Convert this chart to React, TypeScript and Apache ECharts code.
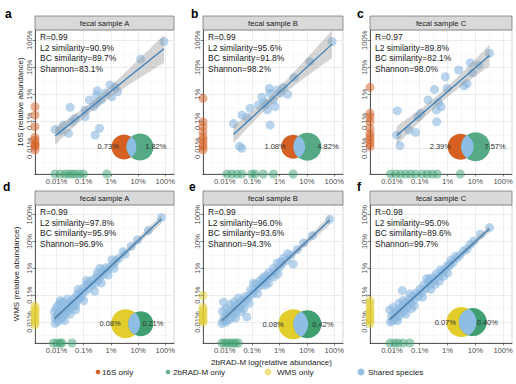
import React, { useEffect, useRef } from "react";
import * as echarts from "echarts";

// ---------- axis ticks (log10 of relative abundance) ----------
const MAJOR_TICKS = [-4, -3, -2, -1, 0];
const MAJOR_LABELS = ["0.01%", "0.1%", "1%", "10%", "100%"];
const MINOR_TICKS = [-4.5, -3.5, -2.5, -1.5, -0.5];

// ---------- panel texts ----------
const PANEL_LETTERS = ["a", "b", "c", "d", "e", "f"];
const SAMPLE_NAMES = ["fecal sample A", "fecal sample B", "fecal sample C", "fecal sample A", "fecal sample B", "fecal sample C"];
const R_VALUES = ["0.99", "0.99", "0.97", "0.99", "0.99", "0.98"];
const L2_SIM = ["90.9%", "95.6%", "89.8%", "97.8%", "96.0%", "95.0%"];
const BC_SIM = ["89.7%", "91.8%", "82.1%", "95.9%", "93.6%", "89.6%"];
const SHANNON = ["83.1%", "98.2%", "98.0%", "96.9%", "94.3%", "99.7%"];
const VENN_LEFT_PCT = ["0.73%", "1.08%", "2.39%", "0.08%", "0.08%", "0.07%"];
const VENN_RIGHT_PCT = ["1.82%", "4.82%", "7.57%", "0.21%", "0.42%", "0.40%"];

// ---------- shared species: [log10 2bRAD-M, log10 other] ----------
const SHARED_A = [
  [-0.05, -0.05], [-0.91, -0.7], [-2.03, -1.66], [-1.85, -1.74], [-1.97, -2.09], [-2.5, -1.87],
  [-2.52, -2.03], [-2.79, -2.21], [-2.52, -2.33], [-2.64, -2.46], [-3.5, -2.48], [-2.95, -2.83],
  [-3.31, -2.89], [-3.43, -3.02], [-3.74, -3.14], [-4.05, -3.3], [-3.86, -3.35], [-3.56, -3.45],
  [-2.42, -3.26], [-2.58, -3.51], [-2.95, -2.58], [-2.2, -1.95], [-1.75, -1.9], [-2.35, -2.2],
];
const SHARED_B = [
  [-0.08, -0.05], [-0.89, -0.79], [-1.47, -1.37], [-1.86, -1.74], [-2.37, -1.78], [-2.08, -1.84],
  [-2.34, -1.96], [-2.64, -2.11], [-2.77, -2.4], [-2.46, -2.36], [-2.22, -2.21], [-2.16, -2.46],
  [-2.44, -2.58], [-3.07, -2.52], [-3.37, -2.77], [-3.68, -3.08], [-2.34, -3.14], [-3.46, -3.92],
  [-3.37, -4.0], [-1.95, -1.95], [-2.55, -2.3], [-1.7, -2.0], [-3.2, -2.85],
];
const SHARED_C = [
  [-0.49, -0.48], [-1.18, -0.83], [-0.88, -0.92], [-1.6, -1.1], [-2.08, -1.35], [-1.3, -1.6],
  [-1.4, -1.69], [-2.02, -1.78], [-2.47, -1.82], [-2.7, -2.21], [-2.32, -2.31], [-2.23, -2.46],
  [-2.4, -2.58], [-3.07, -2.83], [-3.81, -2.61], [-2.39, -3.02], [-3.39, -3.32], [-3.15, -3.41],
  [-3.83, -3.51], [-3.71, -3.9], [-2.97, -2.71], [-1.1, -1.2],
];
const SHARED_D = [
  [-0.14, -0.11], [-0.62, -0.58], [-1.02, -0.93], [-1.25, -1.18], [-1.48, -1.47], [-1.55, -1.38],
  [-1.7, -1.62], [-1.82, -1.72], [-1.9, -1.85], [-1.96, -1.68], [-2.05, -1.95], [-2.12, -2.08],
  [-2.2, -1.98], [-2.28, -2.22], [-2.32, -2.1], [-2.4, -2.33], [-2.45, -2.45], [-2.52, -2.3],
  [-2.58, -2.55], [-2.65, -2.42], [-2.7, -2.62], [-2.76, -2.48], [-2.82, -2.75], [-2.88, -2.6],
  [-2.95, -2.85], [-3.0, -2.72], [-3.05, -2.95], [-3.1, -3.08], [-3.15, -2.9], [-3.2, -3.15],
  [-3.25, -3.0], [-3.3, -3.28], [-3.35, -3.12], [-3.4, -3.4], [-3.45, -3.22], [-3.5, -3.5],
  [-3.55, -3.32], [-3.6, -3.6], [-3.62, -3.45], [-3.68, -3.7], [-3.72, -3.52], [-3.78, -3.8],
  [-3.8, -3.6], [-3.85, -3.9], [-3.88, -3.3], [-3.9, -3.68], [-3.95, -3.98], [-3.98, -3.75],
  [-4.02, -3.5], [-4.05, -4.05], [-4.05, -3.85], [-4.08, -3.62], [-3.7, -3.95], [-3.5, -3.7],
  [-3.3, -3.55], [-3.0, -3.2], [-2.6, -2.85], [-3.86, -3.2], [-3.2, -2.78], [-2.9, -2.45], [-2.4, -2.0],
  [-3.95, -3.4], [-3.75, -3.25], [-3.6, -3.15], [-3.3, -3.4], [-2.1, -2.25], [-1.88, -2.0],
  [-2.5, -2.15], [-2.35, -2.55],
];
const SHARED_E = [
  [-0.16, -0.17], [-0.8, -0.78], [-1.12, -1.05], [-1.35, -1.3], [-1.5, -1.84], [-1.58, -1.5],
  [-1.75, -1.71], [-1.85, -1.62], [-1.92, -1.85], [-2.0, -1.95], [-2.08, -1.8], [-2.15, -2.1],
  [-2.22, -2.0], [-2.3, -2.25], [-2.38, -2.15], [-2.45, -2.4], [-2.5, -2.28], [-2.58, -2.5],
  [-2.65, -2.62], [-2.7, -2.45], [-2.78, -2.7], [-2.85, -2.58], [-2.92, -2.82], [-2.98, -2.95],
  [-3.05, -2.8], [-3.1, -3.02], [-3.18, -3.15], [-3.19, -3.81], [-3.25, -3.05], [-3.3, -3.3],
  [-3.36, -3.18], [-3.42, -3.45], [-3.48, -3.3], [-3.55, -3.58], [-3.6, -3.4], [-3.65, -3.7],
  [-3.7, -3.5], [-3.75, -3.82], [-3.8, -3.62], [-3.85, -3.92], [-3.9, -3.7], [-3.95, -4.0],
  [-4.0, -3.8], [-4.04, -3.26], [-4.05, -3.95], [-4.08, -3.6], [-4.1, -4.05], [-3.6, -3.85],
  [-3.4, -3.62], [-3.1, -3.3], [-2.8, -2.95], [-2.5, -2.62], [-2.2, -2.32], [-3.5, -3.1],
  [-2.95, -2.55], [-1.7, -1.45], [-3.95, -3.5], [-3.8, -3.35], [-3.65, -3.25], [-3.3, -3.5],
  [-2.05, -2.2], [-1.95, -1.75], [-2.6, -2.35], [-2.4, -2.55],
];
const SHARED_F = [
  [-0.49, -0.48], [-0.82, -0.73], [-1.05, -0.98], [-1.18, -1.1], [-1.3, -1.28], [-1.42, -1.35],
  [-1.55, -1.5], [-1.65, -1.62], [-1.72, -1.55], [-1.8, -1.78], [-1.88, -1.7], [-1.95, -1.92],
  [-2.02, -1.9], [-2.1, -2.05], [-2.18, -2.15], [-2.25, -2.05], [-2.32, -2.3], [-2.4, -2.2],
  [-2.48, -2.45], [-2.55, -2.35], [-2.62, -2.6], [-2.7, -2.5], [-2.78, -2.75], [-2.85, -2.62],
  [-2.92, -2.9], [-3.0, -2.78], [-3.05, -3.05], [-3.12, -2.92], [-3.2, -3.18], [-3.25, -3.05],
  [-3.32, -3.3], [-3.38, -3.15], [-3.45, -3.45], [-3.5, -3.28], [-3.55, -3.58], [-3.6, -3.4],
  [-3.63, -2.82], [-3.68, -3.68], [-3.72, -3.5], [-3.78, -3.8], [-3.82, -3.6], [-3.88, -3.88],
  [-3.92, -3.7], [-3.98, -3.95], [-4.02, -3.78], [-4.06, -4.0], [-4.08, -3.55], [-3.8, -3.95],
  [-3.5, -3.7], [-3.2, -3.4], [-2.9, -3.08], [-2.6, -2.78], [-2.3, -2.48], [-2.0, -2.18],
  [-3.35, -2.95], [-2.75, -2.38], [-3.95, -3.45], [-3.75, -3.3], [-3.6, -3.2], [-3.3, -3.5],
  [-2.15, -2.3], [-1.9, -1.85], [-2.65, -2.4], [-2.45, -2.6],
];

// ---------- species found only by 16S / WMS (log10 of their abundance, y) ----------
const ONLY_OTHER_A = [-2.46, -2.77, -3.2, -3.59, -3.7, -3.82, -3.88, -3.94, -4.06];
const ONLY_OTHER_B = [-2.15, -3.02, -3.2, -3.39, -3.57, -3.69, -3.82, -3.94, -4.06];
const ONLY_OTHER_C = [-1.74, -2.71, -2.85, -3.02, -3.26, -3.45, -3.57, -3.69, -3.82, -3.94];
const ONLY_OTHER_D = [-3.4, -3.5, -3.6, -3.7, -3.8, -3.9, -4.0, -4.1];
const ONLY_OTHER_E = [-3.01, -3.44, -3.55, -3.65, -3.75, -3.85, -3.95, -4.0];
const ONLY_OTHER_F = [-3.2, -3.3, -3.45, -3.55, -3.65, -3.75, -3.85, -3.95, -4.05];

// ---------- species found only by 2bRAD-M (log10 abundance, x) ----------
const ONLY_2B_A = [-4.05, -3.86, -3.68, -3.56, -3.43, -3.31, -3.16, -3.01, -2.15];
const ONLY_2B_B = [-3.92, -3.74, -3.55, -3.37, -3.01, -2.89, -2.59, -2.22, -1.5];
const ONLY_2B_C = [-4.05, -3.87, -3.69, -3.51, -3.33, -3.15, -2.91, -2.73, -2.55, -2.37, -1.54];
const ONLY_2B_D = [-4.11, -3.98, -3.86, -3.8, -3.43];
const ONLY_2B_E = [-4.1, -4.0, -3.9, -3.8, -3.7, -3.6, -3.5];
const ONLY_2B_F = [-4.07, -3.9, -3.78, -3.6, -3.36];

const SHARED = [SHARED_A, SHARED_B, SHARED_C, SHARED_D, SHARED_E, SHARED_F];
const ONLY_OTHER = [ONLY_OTHER_A, ONLY_OTHER_B, ONLY_OTHER_C, ONLY_OTHER_D, ONLY_OTHER_E, ONLY_OTHER_F];
const ONLY_2B = [ONLY_2B_A, ONLY_2B_B, ONLY_2B_C, ONLY_2B_D, ONLY_2B_E, ONLY_2B_F];

// ---------- layout / style ----------
const X_RANGE = [-4.79, 0.32];
const Y_RANGES = [[-4.95, 0.38], [-4.78, 0.36]];
const COLS = [{ left: 35, width: 139 }, { left: 203, width: 140 }, { left: 370, width: 142 }];
const ROWS = [{ top: 30, height: 144 }, { top: 205, height: 138 }];
// venn: circle x / y in log units; radii px; label x in log units
const VENN_POS = [
  { lx: -1.52, rx: -0.93, y: -3.95, rl: 12.5, rr: 13.5, tl: -2.1, tr: -0.35 },
  { lx: -1.5, rx: -0.98, y: -3.94, rl: 12, rr: 14, tl: -2.16, tr: -0.23 },
  { lx: -1.53, rx: -0.99, y: -3.94, rl: 13, rr: 14.5, tl: -2.26, tr: -0.29 },
  { lx: -1.46, rx: -0.9, y: -4.06, rl: 14.5, rr: 12.5, tl: -2.03, tr: -0.46 },
  { lx: -1.5, rx: -0.98, y: -4.08, rl: 15, rr: 14, tl: -2.23, tr: -0.41 },
  { lx: -1.5, rx: -1.09, y: -4.0, rl: 15, rr: 14, tl: -2.08, tr: -0.57 },
];
const FONT = "'Liberation Sans', Arial, Helvetica, sans-serif";
const C_ORANGE = "#d65f22";
const C_GREEN = "#3d9f72";
const C_YELLOW = "#e3cd2d";
const C_BLUE = "#8ab8e0";
const C_VENN_MID = "#8ebde6";

function fitBand(pts: number[][]) {
  const n = pts.length;
  let sx = 0, sy = 0;
  pts.forEach((p) => { sx += p[0]; sy += p[1]; });
  const mx = sx / n, my = sy / n;
  let sxx = 0, sxy = 0;
  pts.forEach((p) => { sxx += (p[0] - mx) ** 2; sxy += (p[0] - mx) * (p[1] - my); });
  const b = sxy / sxx, a = my - b * mx;
  let sse = 0;
  pts.forEach((p) => { const r = p[1] - (a + b * p[0]); sse += r * r; });
  const df = n - 2;
  const s = Math.sqrt(sse / df);
  const t = 1.96 + 2.4 / df;
  const xs = pts.map((p) => p[0]);
  const x0 = Math.min(...xs), x1 = Math.max(...xs);
  const band: number[][] = [];
  const steps = 40;
  for (let i = 0; i <= steps; i++) {
    const x = x0 + ((x1 - x0) * i) / steps;
    const f = a + b * x;
    const se = s * Math.sqrt(1 / n + (x - mx) ** 2 / sxx);
    band.push([x, f - t * se, f + t * se]);
  }
  return { a, b, x0, x1, band };
}

function lensPath(c1: number[], r1: number, c2: number[], r2: number) {
  const d = c2[0] - c1[0];
  const a = (r1 * r1 - r2 * r2 + d * d) / (2 * d);
  const h = Math.sqrt(Math.max(r1 * r1 - a * a, 0));
  const px = c1[0] + a, py = c1[1];
  const l1 = a < 0 ? 1 : 0;
  const l2 = d - a < 0 ? 1 : 0;
  return `M${px},${py - h} A${r1},${r1} 0 ${l1} 1 ${px},${py + h} A${r2},${r2} 0 ${l2} 1 ${px},${py - h} Z`;
}

function txt(x: number, y: number, text: string, size: number, opts: any = {}) {
  return {
    type: "text",
    x, y,
    rotation: opts.rotation || 0,
    silent: true,
    z: 50,
    style: {
      text,
      fill: opts.fill || "#1a1a1a",
      fontSize: size,
      fontFamily: FONT,
      fontWeight: opts.weight || "normal",
      align: opts.align || "left",
      textAlign: opts.align || "left",
      verticalAlign: "middle",
      textVerticalAlign: "middle",
    },
  };
}

export default function App() {
  const ref = useRef<HTMLDivElement>(null);
  useEffect(() => {
    if (!ref.current) return;
    document.body.style.margin = "0";
    const chart = echarts.init(ref.current, null, { renderer: "svg" });
    const grids: any[] = [], xAxes: any[] = [], yAxes: any[] = [], series: any[] = [], graphics: any[] = [];
    const labelFmt = (v: number) => {
      const i = MAJOR_TICKS.indexOf(Math.round(v));
      return i >= 0 ? MAJOR_LABELS[i] : "";
    };

    for (let p = 0; p < 6; p++) {
      const row = Math.floor(p / 3), col = p % 3;
      const C = COLS[col], R = ROWS[row];
      const yr = Y_RANGES[row];
      grids.push({
        left: C.left, top: R.top, width: C.width, height: R.height,
        show: true, backgroundColor: "#ffffff", borderColor: "#b8b8b8", borderWidth: 0.6,
        outerBoundsMode: "none", containLabel: false,
      });
      const axisCommon = (min: number, max: number, isY: boolean) => ({
        type: "value", gridIndex: p, min, max,
        axisLine: { show: true, onZero: false, lineStyle: { color: "#333333", width: 0.8 } },
        axisTick: { show: true, customValues: MAJOR_TICKS, length: 2.5, lineStyle: { color: "#333333", width: 0.6 } },
        axisLabel: {
          customValues: MAJOR_TICKS, formatter: labelFmt, fontSize: 7.6, color: "#4d4d4d",
          fontFamily: FONT, margin: isY ? 2 : 3, rotate: isY ? 90 : 0,
        },
        splitLine: { show: true, lineStyle: { color: "#e4e4e4", width: 0.7 } },
        z: 1,
      });
      const minorAxis = (min: number, max: number) => ({
        type: "value", gridIndex: p, min, max,
        axisLine: { show: false }, axisLabel: { show: false },
        axisTick: { show: false, customValues: MINOR_TICKS },
        splitLine: { show: true, lineStyle: { color: "#f0f0f0", width: 0.5 } },
        z: 0,
      });
      xAxes.push(axisCommon(X_RANGE[0], X_RANGE[1], false));
      xAxes.push(minorAxis(X_RANGE[0], X_RANGE[1]));
      yAxes.push(axisCommon(yr[0], yr[1], true));
      yAxes.push(minorAxis(yr[0], yr[1]));

      const xi = 2 * p, yi = 2 * p;
      const shared = SHARED[p];
      const fit = fitBand(shared);

      series.push({
        type: "scatter", name: "Shared species", xAxisIndex: xi, yAxisIndex: yi,
        data: shared, symbolSize: 9, clip: false, z: 3,
        itemStyle: { color: C_BLUE, opacity: 0.6 }, silent: true,
      });
      series.push({
        type: "scatter", name: row === 0 ? "16S only" : "WMS only", xAxisIndex: xi, yAxisIndex: yi,
        data: ONLY_OTHER[p].map((v) => [X_RANGE[0], v]), symbolSize: 9, clip: false, z: 3,
        itemStyle: { color: row === 0 ? C_ORANGE : C_YELLOW, opacity: 0.5 }, silent: true,
      });
      series.push({
        type: "scatter", name: "2bRAD-M only", xAxisIndex: xi, yAxisIndex: yi,
        data: ONLY_2B[p].map((v) => [v, yr[0]]), symbolSize: 9, clip: false, z: 3,
        itemStyle: { color: C_GREEN, opacity: 0.5 }, silent: true,
      });
      series.push({
        type: "custom", xAxisIndex: xi, yAxisIndex: yi, data: [0], silent: true, z: 4,
        renderItem: (params: any, api: any) => {
          const pts: number[][] = [];
          fit.band.forEach((b) => pts.push(api.coord([b[0], b[2]])));
          fit.band.slice().reverse().forEach((b) => pts.push(api.coord([b[0], b[1]])));
          return { type: "polygon", shape: { points: pts }, style: { fill: "rgba(150,150,150,0.4)" } };
        },
      });
      series.push({
        type: "line", xAxisIndex: xi, yAxisIndex: yi, symbol: "none", silent: true, z: 5,
        data: [[fit.x0, fit.a + fit.b * fit.x0], [fit.x1, fit.a + fit.b * fit.x1]],
        lineStyle: { color: "#3b7fb9", width: 1.3 },
      });
      const V = VENN_POS[p];
      const leftColor = row === 0 ? C_ORANGE : C_YELLOW;
      series.push({
        type: "custom", xAxisIndex: xi, yAxisIndex: yi, data: [0], silent: true, z: 6,
        renderItem: (params: any, api: any) => {
          const c1 = api.coord([V.lx, V.y]);
          const c2 = api.coord([V.rx, V.y]);
          const t1 = api.coord([V.tl, V.y]);
          const t2 = api.coord([V.tr, V.y]);
          return {
            type: "group",
            children: [
              { type: "circle", shape: { cx: c1[0], cy: c1[1], r: V.rl }, style: { fill: leftColor } },
              { type: "circle", shape: { cx: c2[0], cy: c2[1], r: V.rr }, style: { fill: row === 0 ? "#55a984" : "#3f9f70" } },
              { type: "path", shape: { pathData: lensPath(c1, V.rl, c2, V.rr) }, style: { fill: C_VENN_MID } },
              { type: "text", x: t1[0], y: t1[1], style: { text: VENN_LEFT_PCT[p], fill: "#333333", fontSize: 7.5, fontFamily: FONT, align: "center", verticalAlign: "middle" } },
              { type: "text", x: t2[0], y: t2[1], style: { text: VENN_RIGHT_PCT[p], fill: "#333333", fontSize: 7.5, fontFamily: FONT, align: "center", verticalAlign: "middle" } },
            ],
          };
        },
      });

      // strip
      const stripTop = row === 0 ? 16 : 191;
      graphics.push({
        type: "rect", silent: true, z: 40,
        shape: { x: C.left, y: stripTop, width: C.width, height: R.top - stripTop },
        style: { fill: "#d9d9d9", stroke: "#555555", lineWidth: 0.6 },
      });
      graphics.push(txt(C.left + C.width / 2, (stripTop + R.top) / 2, SAMPLE_NAMES[p], 7.6, { align: "center", fill: "#1a1a1a" }));
      // stats
      const lines = [`R=${R_VALUES[p]}`, `L2 similarity=${L2_SIM[p]}`, `BC similarity=${BC_SIM[p]}`, `Shannon=${SHANNON[p]}`];
      lines.forEach((l, k) => graphics.push(txt(C.left + 5, R.top + 7 + k * 10.7, l, 8.5)));
      // panel letter
      const letterX = [5, 191, 357][col] - (row === 1 && col < 2 ? 2 : 0);
      graphics.push(txt(letterX, row === 0 ? 14 : 187, PANEL_LETTERS[p], 12, { weight: "bold", fill: "#000000" }));
    }

    graphics.push(txt(20, ROWS[0].top + ROWS[0].height / 2, "16S (relative abundance)", 8, { rotation: Math.PI / 2, align: "center" }));
    graphics.push(txt(16, ROWS[1].top + ROWS[1].height / 2, "WMS (relative abundance)", 8, { rotation: Math.PI / 2, align: "center" }));
    graphics.push(txt(271.5, 362, "2bRAD-M log(relative abundance)", 8, { align: "center" }));

    const legendItems = [
      { name: "16S only", dot: 98, text: 102, color: C_ORANGE, r: 2.3, op: 1 },
      { name: "2bRAD-M only", dot: 168, text: 173, color: C_GREEN, r: 2.3, op: 0.8 },
      { name: "WMS only", dot: 268, text: 277, color: C_YELLOW, r: 3.5, op: 0.6 },
      { name: "Shared species", dot: 361, text: 368, color: C_BLUE, r: 3.5, op: 0.9 },
    ];
    legendItems.forEach((it) => {
      graphics.push({ type: "circle", silent: true, shape: { cx: it.dot, cy: 372, r: it.r }, style: { fill: it.color, opacity: it.op } });
      graphics.push(txt(it.text, 372, it.name, 8));
    });

    chart.setOption({
      animation: false,
      backgroundColor: "#ffffff",
      textStyle: { fontFamily: FONT },
      grid: grids,
      xAxis: xAxes,
      yAxis: yAxes,
      series,
      graphic: { elements: graphics },
    });
    return () => chart.dispose();
  }, []);
  return <div ref={ref} style={{ position: "fixed", left: 0, top: 0, width: 516, height: 384 }} />;
}
